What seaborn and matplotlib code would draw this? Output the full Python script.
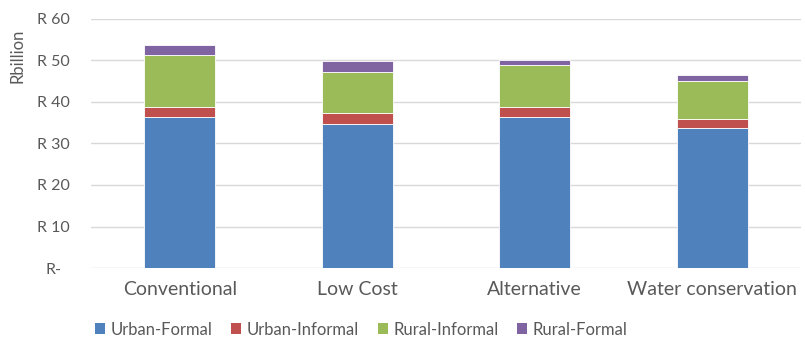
import numpy as np
import matplotlib
matplotlib.use("Agg")
import matplotlib.pyplot as plt
import seaborn as sns
from matplotlib.patches import Patch

categories = ["Conventional", "Low Cost", "Alternative", "Water conservation"]
series_names = ["Urban-Formal", "Urban-Informal", "Rural-Informal", "Rural-Formal"]
urban_formal = [36.4, 34.8, 36.4, 33.7]
urban_informal = [2.4, 2.5, 2.4, 2.2]
rural_informal = [12.6, 10.0, 10.0, 9.2]
rural_formal = [2.3, 2.5, 1.2, 1.3]
y_ticks = [0, 10, 20, 30, 40, 50, 60]
y_tick_labels = ["R-", "R 10", "R 20", "R 30", "R 40", "R 50", "R 60"]

colors = ["#4F81BD", "#C0504D", "#9BBB59", "#8064A2"]
text_color = "#595959"

sns.set_theme(style="white")
plt.rcParams["font.family"] = ["Lato", "DejaVu Sans"]

fig = plt.figure(figsize=(8.05, 3.38), dpi=100)
ax = fig.add_axes([0.113, 0.207, 0.882, 0.737])

series = [urban_formal, urban_informal, rural_informal, rural_formal]
bottom = np.zeros(len(categories))
for name, vals, col in zip(series_names, series, colors):
    sns.barplot(x=categories, y=vals, bottom=bottom, color=col, width=0.4,
                edgecolor="white", linewidth=0.6, saturation=1, ax=ax, zorder=3)
    bottom = bottom + np.array(vals)

ax.set_ylim(0, 60)
ax.set_yticks(y_ticks)
ax.set_yticklabels(y_tick_labels, color=text_color, fontsize=11.5, ha="center")
ax.tick_params(axis="y", length=0, pad=27)
ax.tick_params(axis="x", length=0, pad=9, labelsize=14, labelcolor=text_color)
ax.yaxis.grid(True, color="#D9D9D9", linewidth=1)
ax.set_axisbelow(True)
for s in ["top", "right", "left", "bottom"]:
    ax.spines[s].set_visible(False)
ax.set_xlabel("")
ax.set_ylabel("")

fig.text(0.022, 0.835, "Rbillion", rotation=90, ha="center", va="center",
         color=text_color, fontsize=12)

handles = [Patch(facecolor=c, edgecolor="none") for c in colors]
fig.legend(handles, series_names, loc="center", bbox_to_anchor=(0.449, 0.025),
           ncol=4, frameon=False, fontsize=12, labelcolor=text_color,
           handlelength=0.6, handleheight=0.6, handletextpad=0.35, columnspacing=1.1)

fig.savefig("out.png", dpi=100, facecolor="white")
